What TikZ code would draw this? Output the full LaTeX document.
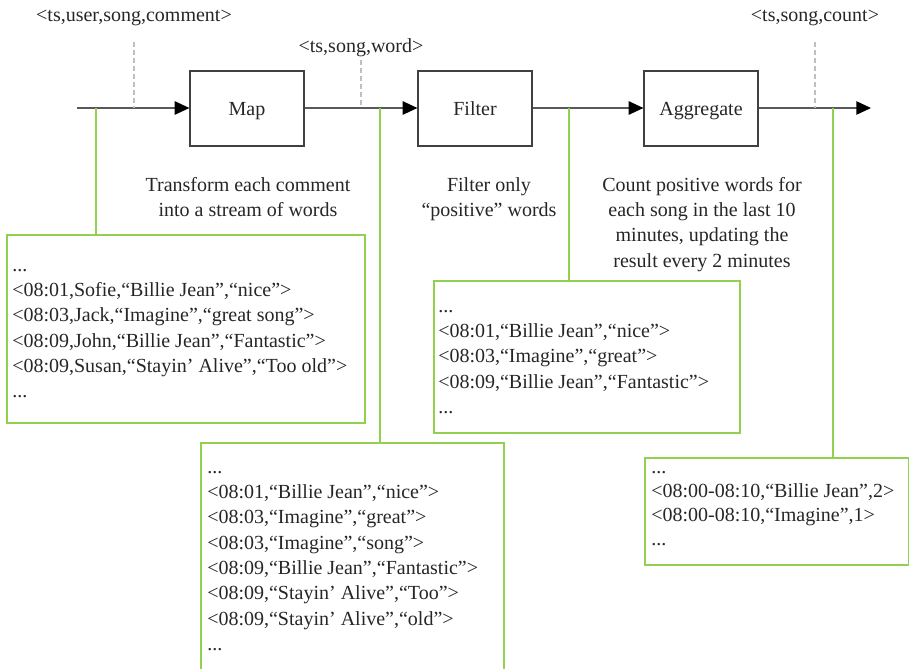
\documentclass[tikz,border=0pt]{standalone}
\usepackage{fontspec}
\setmainfont{Liberation Serif}
\usetikzlibrary{arrows.meta}
\definecolor{procgray}{HTML}{404040}
\definecolor{flowgray}{HTML}{595959}
\definecolor{dashgray}{HTML}{BFBFBF}
\definecolor{lgreen}{HTML}{92D050}
\begin{document}
\begin{tikzpicture}[x=0.75pt,y=-0.75pt,
  every node/.style={font=\fontsize{15}{19}\selectfont, inner sep=0pt, text=black!85},
  proc/.style={draw=procgray, line width=0.9pt, minimum width=85.5pt, minimum height=56.25pt},
  flow/.style={draw=flowgray, line width=1.1pt, -{Triangle[length=11pt,width=10pt,color=black]}},
  dashline/.style={draw=dashgray, line width=0.9pt, dash pattern=on 4pt off 2pt},
  gline/.style={draw=lgreen, line width=1.5pt},
  gbox/.style={draw=lgreen, line width=1.5pt, anchor=north west},
  lines/.style={anchor=base west},
  desc/.style={anchor=base},
]
\useasboundingbox (0,0) rectangle (909,668);
\clip (0,0) rectangle (909,668);

% process boxes
\node[proc] (map) at (247,108.5) {};
\node[anchor=base] (maplbl) at (map.center |- 0,115) {Map};
\node[proc] (filter) at (475,108.5) {};
\node[anchor=base] (filterlbl) at (filter.center |- 0,115) {Filter};
\node[proc] (agg) at (701,108.5) {};
\node[anchor=base] (agglbl) at (agg.center |- 0,115) {Aggregate};

% main flow
\coordinate (start) at (77,108);
\coordinate (finish) at (871,108);
\draw[flow] (start) -- (start -| map.west);
\draw[flow] (map.east |- start) -- (filter.west |- start);
\draw[flow] (filter.east |- start) -- (agg.west |- start);
\draw[flow] (agg.east |- start) -- (finish);

% stream schemas
\node[desc] (s1) at (134,21) {<ts,user,song,comment>};
\node[desc] (s2) at (361,52) {<ts,song,word>};
\node[desc] (s3) at (815,21) {<ts,song,count>};
\coordinate (d1) at (134,42);
\coordinate (d2) at (361,60);
\coordinate (d3) at (815,42);
\draw[dashline] (d1) -- (d1 |- start);
\draw[dashline] (d2) -- (d2 |- start);
\draw[dashline] (d3) -- (d3 |- start);

% descriptions
\node[desc] (desc1) at (248,191) {\begin{tabular}[t]{@{}c@{}}Transform each comment\\into a stream of words\end{tabular}};
\node[desc] (desc2) at (489,191) {\begin{tabular}[t]{@{}c@{}}Filter only\\“positive” words\end{tabular}};
\node[desc] (desc3) at (702,191) {\begin{tabular}[t]{@{}c@{}}Count positive words for\\each song in the last 10\\minutes, updating the\\result every 2 minutes\end{tabular}};

% example boxes
\node[gbox, minimum width=268.5pt, minimum height=141pt] (ex1) at (6,234) {};
\node[lines] (ex1t) at (12,271) {\begin{tabular}[t]{@{}l@{}}...\\<08:01,Sofie,“Billie Jean”,“nice”>\\<08:03,Jack,“Imagine”,“great song”>\\<08:09,John,“Billie Jean”,“Fantastic”>\\<08:09,Susan,“Stayin’ Alive”,“Too old”>\\...\end{tabular}};

\node[gbox, minimum width=227.25pt, minimum height=180pt] (ex2) at (200,442) {};
\node[lines] (ex2t) at (207,473) {\begin{tabular}[t]{@{}l@{}}...\\<08:01,“Billie Jean”,“nice”>\\<08:03,“Imagine”,“great”>\\<08:03,“Imagine”,“song”>\\<08:09,“Billie Jean”,“Fantastic”>\\<08:09,“Stayin’ Alive”,“Too”>\\<08:09,“Stayin’ Alive”,“old”>\\...\end{tabular}};

\node[gbox, minimum width=229.5pt, minimum height=114pt] (ex3) at (433,280) {};
\node[lines] (ex3t) at (438,312) {\begin{tabular}[t]{@{}l@{}}...\\<08:01,“Billie Jean”,“nice”>\\<08:03,“Imagine”,“great”>\\<08:09,“Billie Jean”,“Fantastic”>\\...\end{tabular}};

\node[gbox, minimum width=198pt, minimum height=80.25pt] (ex4) at (644,457) {};
\node[lines] (ex4t) at (651,473) {\renewcommand\arraystretch{0.95}\begin{tabular}[t]{@{}l@{}}...\\<08:00-08:10,“Billie Jean”,2>\\<08:00-08:10,“Imagine”,1>\\...\end{tabular}};

% green taps
\coordinate (g1) at (96,108);
\coordinate (g2) at (380,108);
\coordinate (g3) at (569,108);
\coordinate (g4) at (833,108);
\draw[gline] (g1) -- (g1 |- ex1.north);
\draw[gline] (g2) -- (g2 |- ex2.north);
\draw[gline] (g3) -- (g3 |- ex3.north);
\draw[gline] (g4) -- (g4 |- ex4.north);
\end{tikzpicture}
\end{document}
